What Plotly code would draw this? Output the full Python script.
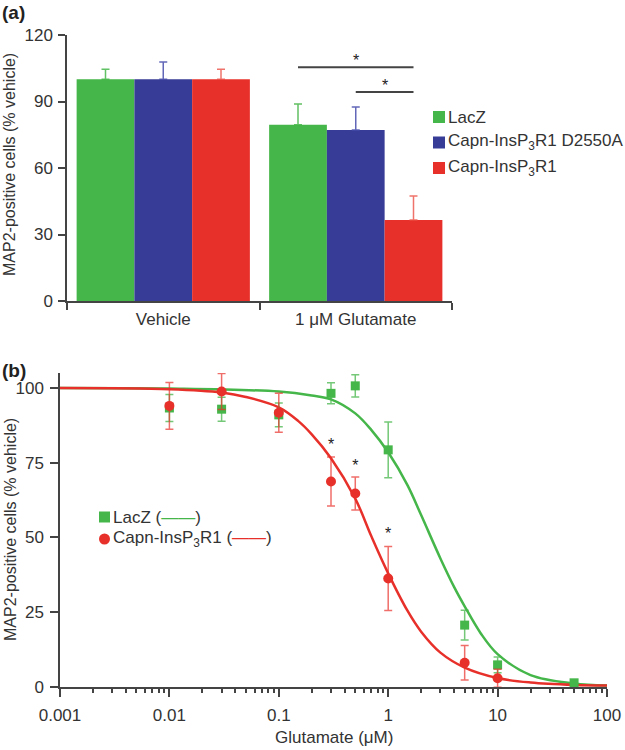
import plotly.graph_objects as go

# ---- panel (a) data ----
groups = ["Vehicle", "1 μM Glutamate"]
lacz_bar = [100, 79.5]
lacz_bar_err = [4.6, 9.4]
d2550a_bar = [100, 77.1]
d2550a_bar_err = [7.8, 10.4]
capn_bar = [100, 36.5]
capn_bar_err = [4.5, 10.9]
bar_names = ["LacZ", "Capn-InsP<sub>3</sub>R1 D2550A", "Capn-InsP<sub>3</sub>R1"]

# ---- panel (b) data ----
conc = [0.01, 0.03, 0.1, 0.3, 0.5, 1, 5, 10, 50]
lacz_pts = [93.3, 92.9, 91.0, 98.2, 100.7, 79.3, 20.7, 7.4, 1.4]
lacz_err = [4.5, 4.0, 4.0, 3.5, 3.7, 9.3, 5.0, 2.6, 1.0]
capn_conc = [0.01, 0.03, 0.1, 0.3, 0.5, 1, 5, 10]
capn_pts = [94.0, 98.8, 91.7, 68.7, 64.7, 36.3, 8.1, 2.9]
capn_err = [7.8, 6.0, 6.5, 8.2, 5.5, 10.7, 5.8, 3.0]
star_conc = [0.3, 0.5, 1]
star_y = [80.6, 73.7, 50.8]

# fitted curves
lacz_fit_x = [0.001, 0.01, 0.1, 0.2, 0.3, 0.5, 0.7, 1, 1.5, 2, 3, 4, 5, 7, 10, 20, 50, 100]
lacz_fit_y = [100, 99.8, 98.8, 97.5, 96.2, 91.5, 86, 78.5, 67.5, 57.5, 43, 33.5, 27, 18, 11, 4, 1.2, 0.5]
capn_fit_x = [0.001, 0.01, 0.03, 0.05, 0.1, 0.15, 0.2, 0.3, 0.5, 0.7, 1, 1.5, 2, 3, 5, 10, 20, 50, 100]
capn_fit_y = [100, 99.6, 98.5, 97, 93.5, 89, 84.5, 76.5, 63, 50.5, 38, 25.5, 18.5, 11.5, 6.5, 3, 1.5, 0.7, 0.5]

GREEN = "#45b649"
BLUE = "#373c96"
RED = "#e8302a"
AX = "#444444"
TXT = "#333333"
FONT = "Liberation Sans"

fig = go.Figure()

for name, vals, err, col, ecol in [
    (bar_names[0], lacz_bar, lacz_bar_err, GREEN, "rgba(69,182,73,0.85)"),
    (bar_names[1], d2550a_bar, d2550a_bar_err, BLUE, "rgba(70,76,170,0.85)"),
    (bar_names[2], capn_bar, capn_bar_err, RED, "rgba(235,80,70,0.8)"),
]:
    fig.add_trace(go.Bar(
        x=groups, y=vals, name=name, marker=dict(color=col, line=dict(width=0)),
        error_y=dict(type="data", symmetric=False, array=err, arrayminus=[0, 0],
                     color=ecol, thickness=1.5, width=4),
        xaxis="x", yaxis="y", showlegend=False,
    ))

# panel (b)
fig.add_trace(go.Scatter(x=lacz_fit_x, y=lacz_fit_y, mode="lines", line=dict(color=GREEN, width=2.5, shape="spline"),
                         xaxis="x2", yaxis="y2", showlegend=False))
fig.add_trace(go.Scatter(x=capn_fit_x, y=capn_fit_y, mode="lines", line=dict(color=RED, width=2.5, shape="spline"),
                         xaxis="x2", yaxis="y2", showlegend=False))
fig.add_trace(go.Scatter(
    x=conc, y=lacz_pts, mode="markers", marker=dict(symbol="square", size=9, color=GREEN),
    error_y=dict(type="data", array=lacz_err, color="rgba(69,182,73,0.75)", thickness=1.5, width=4),
    xaxis="x2", yaxis="y2", showlegend=False,
))
fig.add_trace(go.Scatter(
    x=capn_conc, y=capn_pts, mode="markers", marker=dict(symbol="circle", size=10, color=RED),
    error_y=dict(type="data", array=capn_err, color="rgba(232,48,42,0.7)", thickness=1.5, width=4),
    xaxis="x2", yaxis="y2", showlegend=False,
))
fig.add_trace(go.Scatter(x=star_conc, y=star_y, mode="text", text=["*"] * 3,
                         textfont=dict(size=16, color="#222"), textposition="middle center",
                         xaxis="x2", yaxis="y2", showlegend=False, hoverinfo="skip"))

W, H = 625, 750
def px(v):
    return v / W
def py(v):
    return 1 - v / H

axis_common = dict(showline=True, linecolor=AX, linewidth=1.5, ticks="outside", tickcolor=AX,
                   tickwidth=1.5, showgrid=False, zeroline=False, automargin=False,
                   tickfont=dict(family=FONT, size=17, color=TXT))

fig.update_layout(
    width=W, height=H, margin=dict(l=0, r=0, t=0, b=0),
    paper_bgcolor="white", plot_bgcolor="white",
    font=dict(family=FONT, size=17, color=TXT),
    barmode="group", bargap=0.1, bargroupgap=0, showlegend=False,
    xaxis=dict(axis_common, domain=[px(67), px(452)], anchor="y", type="category",
               tickson="boundaries", ticklen=7, range=[-0.5, 1.5], ticklabelstandoff=2),
    yaxis=dict(axis_common, domain=[py(301), py(35)], anchor="x", range=[0, 120],
               tickvals=[0, 30, 60, 90, 120], ticklen=7, ticklabelstandoff=2),
    xaxis2=dict(axis_common, domain=[px(60), px(607)], anchor="y2", type="log", range=[-3, 2],
                tickvals=[0.001, 0.01, 0.1, 1, 10, 100], ticktext=["0.001", "0.01", "0.1", "1", "10", "100"],
                ticklen=8, ticklabelstandoff=4,
                minor=dict(ticks="outside", ticklen=4, tickcolor=AX, dtick="D1")),
    yaxis2=dict(axis_common, domain=[py(687), py(373)], anchor="x2", range=[0, 105],
                tickvals=[0, 25, 50, 75, 100], ticklen=8, ticklabelstandoff=3),
)

# significance bars in (a)
for x0, x1, y in [(0.7, 1.3, 105.5), (1.0, 1.3, 94.3)]:
    fig.add_shape(type="line", xref="x", yref="y", x0=x0, x1=x1, y0=y, y1=y,
                  line=dict(color=AX, width=2))
    fig.add_annotation(xref="x", yref="y", x=(x0 + x1) / 2, y=y - 1.7, text="*", showarrow=False,
                       yanchor="bottom", font=dict(size=16, color="#222"))

# legend (a): swatches + labels
for i, (name, col) in enumerate(zip(bar_names, [GREEN, BLUE, RED])):
    yc = 117 + 25.5 * i
    fig.add_shape(type="rect", xref="paper", yref="paper", x0=px(433), x1=px(445),
                  y0=py(yc + 6), y1=py(yc - 6), fillcolor=col, line=dict(width=0))
    fig.add_annotation(xref="paper", yref="paper", x=px(446), y=py(yc), text=name, showarrow=False,
                       xanchor="left", yanchor="middle", font=dict(size=17, color=TXT))

# legend (b)
fig.add_shape(type="rect", xref="paper", yref="paper", x0=px(99), x1=px(110),
              y0=py(522.5), y1=py(511.5), fillcolor=GREEN, line=dict(width=0))
fig.add_shape(type="circle", xref="paper", yref="paper", x0=px(99), x1=px(110),
              y0=py(544.5), y1=py(533.5), fillcolor=RED, line=dict(width=0))
fig.add_annotation(xref="paper", yref="paper", x=px(111), y=py(517), showarrow=False,
                   xanchor="left", yanchor="middle", font=dict(size=17, color=TXT),
                   text="LacZ (<span style='color:%s'>——</span>)" % GREEN)
fig.add_annotation(xref="paper", yref="paper", x=px(111), y=py(539), showarrow=False,
                   xanchor="left", yanchor="middle", font=dict(size=17, color=TXT),
                   text="Capn-InsP<sub>3</sub>R1 (<span style='color:%s'>——</span>)" % RED)

annots = [
    dict(x=px(0), y=py(0), text="<b>(a)</b>", xanchor="left", yanchor="top", font=dict(size=19, color="#222")),
    dict(x=px(0), y=py(358), text="<b>(b)</b>", xanchor="left", yanchor="top", font=dict(size=19, color="#222")),
    dict(x=px(10), y=py(165), text="MAP2-positive cells (% vehicle)", textangle=-90, xanchor="center",
         yanchor="middle", font=dict(size=16, color=TXT)),
    dict(x=px(10), y=py(530), text="MAP2-positive cells (% vehicle)", textangle=-90, xanchor="center",
         yanchor="middle", font=dict(size=16, color=TXT)),
    dict(x=px(334), y=py(737), text="Glutamate (μM)", xanchor="center", yanchor="middle",
         font=dict(size=17, color=TXT)),
]
for a in annots:
    fig.add_annotation(xref="paper", yref="paper", showarrow=False, **a)

# the page's default body margin would push the 625x750 figure out of the window
fig.write_html("out.html", config={"displayModeBar": False},
               post_script="document.body.style.margin='0px';")
